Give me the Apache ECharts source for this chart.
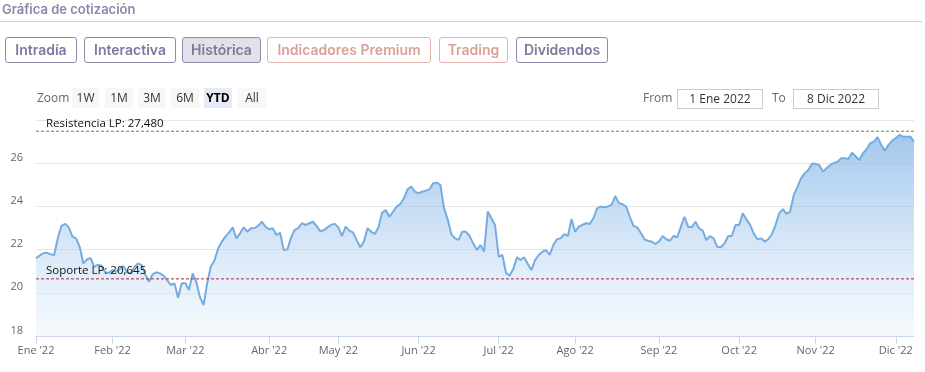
<!DOCTYPE html>
<html><head><meta charset="utf-8">
<script src="https://cdn.jsdelivr.net/npm/echarts@6/dist/echarts.min.js"></script>
<style>
html,body{margin:0;padding:0;background:#fff;width:925px;height:372px;overflow:hidden;font-family:"Open Sans",sans-serif;}
#chart{position:absolute;left:0;top:0;width:925px;height:372px;}
.ui{position:absolute;z-index:2;}
#title{left:2px;top:1px;font-family:Inter,sans-serif;font-weight:600;font-size:13px;color:#8a86a8;}
#sep{left:0;top:21px;width:922px;height:1px;background:#cfcce0;}
.tab{position:absolute;top:37px;height:24px;border:1px solid #8f8cab;border-radius:3px;font-family:Inter,sans-serif;font-weight:600;font-size:14px;color:#7d799e;line-height:24px;text-align:center;box-sizing:content-box;}
.tab.sel{background:#e1e1e8;}
.tab.red{border-color:#e2b2ab;color:#d9a097;}
.rs{position:absolute;top:88px;height:20px;line-height:20px;background:#f7f7f7;font-size:12px;color:#333;text-align:center;font-family:"Open Sans",sans-serif;}
.rs.sel{background:#e6ebf5;font-weight:700;color:#000;}
.lbl{position:absolute;top:88px;height:20px;line-height:20px;font-size:12px;color:#666;}
.inp{position:absolute;top:89px;height:18px;line-height:18px;border:1px solid #cccccc;font-size:12px;color:#333;text-align:center;}
</style></head>
<body>
<div id="chart"></div>
<div id="title" class="ui">Gráfica de cotización</div>
<div id="sep" class="ui"></div>
<div class="tab" style="left:5px;width:70px;">Intradía</div>
<div class="tab" style="left:84px;width:90px;">Interactiva</div>
<div class="tab sel" style="left:182px;width:77px;">Histórica</div>
<div class="tab red" style="left:267px;width:162px;">Indicadores Premium</div>
<div class="tab red" style="left:439px;width:67px;">Trading</div>
<div class="tab" style="left:516px;width:90px;">Dividendos</div>
<div class="lbl" style="left:37px;">Zoom</div>
<div class="rs" style="left:72px;width:27px;">1W</div>
<div class="rs" style="left:105px;width:28px;">1M</div>
<div class="rs" style="left:138px;width:28px;">3M</div>
<div class="rs" style="left:171px;width:28px;">6M</div>
<div class="rs sel" style="left:204px;width:28px;">YTD</div>
<div class="rs" style="left:238px;width:28px;">All</div>
<div class="lbl" style="left:643px;">From</div>
<div class="inp" style="left:677px;width:84px;">1 Ene 2022</div>
<div class="lbl" style="left:772px;">To</div>
<div class="inp" style="left:793px;width:84px;">8 Dic 2022</div>
<script>
// ---- data ----
const monthNames = ['Ene','Feb','Mar','Abr','May','Jun','Jul','Ago','Sep','Oct','Nov','Dic'];
const yTicks = [18, 20, 22, 24, 26];
const holidays = ['2022-04-15','2022-04-18'];
const resistencia = 27.48;
const soporte = 20.645;
const prices = [
21.60,21.72,21.83,21.86,21.78,21.75,22.55,23.10,23.19,23.03,
22.60,22.52,22.13,21.36,21.55,21.60,21.20,21.30,21.25,20.95,
20.92,21.05,20.97,21.10,21.24,20.95,20.90,21.20,21.36,21.28,
20.85,20.51,20.85,20.95,20.90,20.80,20.59,20.36,20.44,19.77,
20.44,20.44,20.13,20.90,20.50,19.80,19.43,20.45,21.22,21.50,
22.05,22.37,22.60,22.80,23.03,22.52,22.75,23.03,22.83,22.99,
23.00,23.10,23.29,23.06,22.94,22.99,22.68,22.78,21.98,22.01,
22.55,22.91,22.99,23.22,23.14,23.22,23.29,23.10,22.85,22.90,
23.03,23.15,23.19,23.03,22.63,23.06,22.88,22.80,22.45,22.11,
22.37,22.99,22.83,22.72,23.03,23.70,23.83,23.52,23.75,23.99,
24.11,24.38,24.79,24.92,24.68,24.61,24.68,24.73,24.79,25.07,
25.10,25.00,23.91,23.40,22.72,22.52,22.45,22.83,22.83,22.63,
22.29,21.98,22.21,21.91,23.76,23.45,23.14,21.67,21.75,20.93,
20.79,21.10,21.64,21.52,21.64,21.33,21.05,21.52,21.75,21.90,
21.98,21.75,22.21,22.48,22.52,22.72,22.63,23.42,22.83,23.06,
23.15,23.22,23.19,23.45,23.91,23.99,23.96,24.00,24.07,24.48,
24.15,24.10,23.99,23.52,23.10,23.03,22.78,22.48,22.40,22.37,
22.26,22.37,22.63,22.48,22.41,22.63,22.57,23.06,23.52,23.06,
23.03,23.29,22.99,22.88,22.44,22.63,22.52,22.13,22.11,22.29,
22.63,22.63,23.14,23.14,23.68,23.40,23.15,22.75,22.48,22.52,
22.37,22.48,22.72,23.14,23.68,23.87,23.65,23.76,24.53,24.90,
25.30,25.54,25.69,25.97,25.97,25.92,25.61,25.77,25.92,26.00,
26.07,26.23,26.23,26.19,26.49,26.31,26.15,26.46,26.65,26.93,
27.00,27.21,26.85,26.58,26.85,27.05,27.16,27.31,27.23,27.23,
27.23,27.00
];
// trading days (categories)
const dates = [];
for (let t = Date.UTC(2022,0,3); t <= Date.UTC(2022,11,8); t += 86400000) {
  const d = new Date(t); const wd = d.getUTCDay();
  if (wd === 0 || wd === 6) continue;
  const s = d.toISOString().slice(0,10);
  if (holidays.includes(s)) continue;
  dates.push(s);
}
const isMonthStart = (i) => i === 0 || dates[i].slice(5,7) !== dates[i-1].slice(5,7);
const fmt = (v) => v.toFixed(3).replace('.', ',');

function levelLine(value, name, color) {
  return {
    type: 'line', data: dates.map(() => value), silent: true, z: 3,
    symbol: 'none',
    lineStyle: {color: color, type: [3, 2], width: 1},
    emphasis: {disabled: true},
    markLine: {
      symbol: 'none', silent: true,
      lineStyle: {color: 'rgba(255,255,255,0)', width: 1, type: 'solid'},
      label: {show: true, position: 'insideStartTop', distance: [10, 2], color: '#111', opacity: 1,
        fontSize: 11.5, fontFamily: 'Open Sans', formatter: name + ': ' + fmt(value)},
      data: [{yAxis: value}]
    }
  };
}

const chart = echarts.init(document.getElementById('chart'), null, {renderer:'canvas'});
chart.setOption({
  animation: false,
  grid: {left: 36, right: 11, top: 120, bottom: 36},
  xAxis: {
    type: 'category', data: dates, boundaryGap: false,
    axisLine: {lineStyle: {color: '#ccd6eb'}},
    axisTick: {show: true, length: 8, interval: (i) => isMonthStart(i), lineStyle: {color: '#ccd6eb'}},
    axisLabel: {interval: (i) => isMonthStart(i), margin: 9, color: '#666', fontSize: 11, fontFamily: 'Open Sans',
      formatter: (v) => monthNames[parseInt(v.slice(5,7),10)-1] + " '" + v.slice(2,4)},
    splitLine: {show: false}
  },
  yAxis: {
    type: 'value', min: 18, max: 28, interval: 2,
    axisLine: {show: false}, axisTick: {show: false},
    axisLabel: {color: '#666', fontSize: 11, fontFamily: 'Open Sans', margin: 13, verticalAlign: 'bottom',
      formatter: (v) => yTicks.includes(v) ? String(v) : ''},
    splitLine: {lineStyle: {color: '#e6e6e6'}}
  },
  series: [{
    type: 'line', data: prices, symbol: 'none', smooth: false, z: 2,
    lineStyle: {color: '#76acdf', width: 2},
    areaStyle: {color: new echarts.graphic.LinearGradient(0,0,0,1,[
      {offset: 0, color: 'rgba(116,172,228,0.95)'},
      {offset: 1, color: 'rgba(232,242,252,0.6)'}
    ])}
  },
  levelLine(resistencia, 'Resistencia LP', '#4a8a3a'),
  levelLine(soporte, 'Soporte LP', '#b81c3c')
  ]
});
</script>
</body></html>
